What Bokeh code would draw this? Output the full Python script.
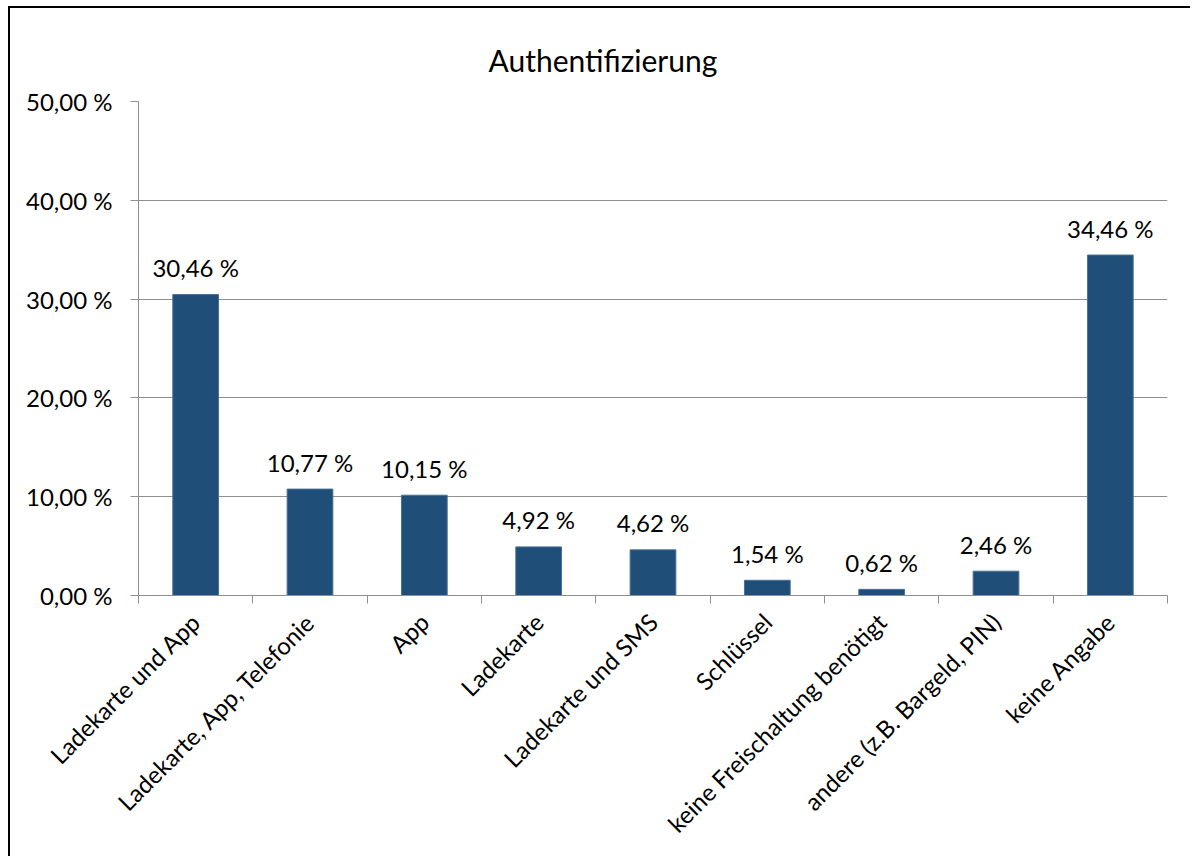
from bokeh.plotting import figure
from bokeh.models import FixedTicker, Range1d, Title
from bokeh.core.properties import value
from bokeh.embed import file_html
from bokeh.resources import INLINE

title_text = "Authentifizierung"
categories = [
    "Ladekarte und App",
    "Ladekarte, App, Telefonie",
    "App",
    "Ladekarte",
    "Ladekarte und SMS",
    "Schlüssel",
    "keine Freischaltung benötigt",
    "andere (z.B. Bargeld, PIN)",
    "keine Angabe",
]
values = [30.46, 10.77, 10.15, 4.92, 4.62, 1.54, 0.62, 2.46, 34.46]
y_ticks = [0, 10, 20, 30, 40, 50]

FONT = "Lato"
BAR = "#1f4e79"
GRID = "#8f8f8f"

def fmt(v):
    return f"{v:.2f}".replace(".", ",") + " %"

idx = list(range(len(categories)))

p = figure(width=1182, height=850, output_backend="svg", toolbar_location=None,
           x_range=Range1d(-0.5, len(categories) - 0.5), y_range=Range1d(0, 50),
           min_border_left=128, min_border_right=25, min_border_top=93, min_border_bottom=263)
p.margin = (8, 0, 0, 10)
p.styles = {"box-shadow": "-2px -2px 0px 0px black"}
p.outline_line_color = None
p.background_fill_color = "white"
p.border_fill_color = "white"
p.title = None

# white spacer between the plot area and the title
p.add_layout(Title(text=".", text_font=FONT, text_font_size="24px", text_color="white",
                   standoff=4), "above")
p.add_layout(Title(text=title_text, align="left", offset=350, vertical_align="bottom",
                   text_font=FONT, text_font_size="30px", text_font_style="normal",
                   text_color="black", standoff=0), "above")

p.vbar(x=idx, top=values, width=0.4, fill_color=BAR, line_color="#4a709a", line_width=1)

labels = [fmt(v) for v in values]
p.text(x=idx, y=values, text=labels, text_align="center", text_baseline="middle",
       y_offset=-27, text_font=value(FONT), text_font_size="24px", text_color="black")

# x axis
xa = p.xaxis[0]
xa.ticker = FixedTicker(ticks=idx, minor_ticks=[i - 0.5 for i in range(len(categories) + 1)])
xa.major_label_overrides = {i: c for i, c in zip(idx, categories)}
xa.major_label_orientation = 0.7853981634
xa.major_tick_out = 0
xa.major_tick_in = 0
xa.minor_tick_out = 8
xa.minor_tick_in = 0
xa.minor_tick_line_color = GRID
xa.axis_line_color = GRID
xa.major_label_standoff = 14
xa.major_label_text_font = FONT
xa.major_label_text_font_size = "24px"
xa.major_label_text_color = "black"

# y axis
ya = p.yaxis[0]
ya.ticker = FixedTicker(ticks=y_ticks)
ya.major_label_overrides = {t: fmt(t) for t in y_ticks}
ya.major_tick_out = 8
ya.major_tick_in = 0
ya.minor_tick_out = 0
ya.minor_tick_in = 0
ya.major_tick_line_color = GRID
ya.axis_line_color = GRID
ya.major_label_standoff = 18
ya.major_label_text_font = FONT
ya.major_label_text_font_size = "24px"
ya.major_label_text_color = "black"

p.xgrid.grid_line_color = None
p.ygrid.grid_line_color = GRID
p.ygrid.ticker = FixedTicker(ticks=y_ticks)

open("out.html", "w").write(file_html(p, INLINE))
